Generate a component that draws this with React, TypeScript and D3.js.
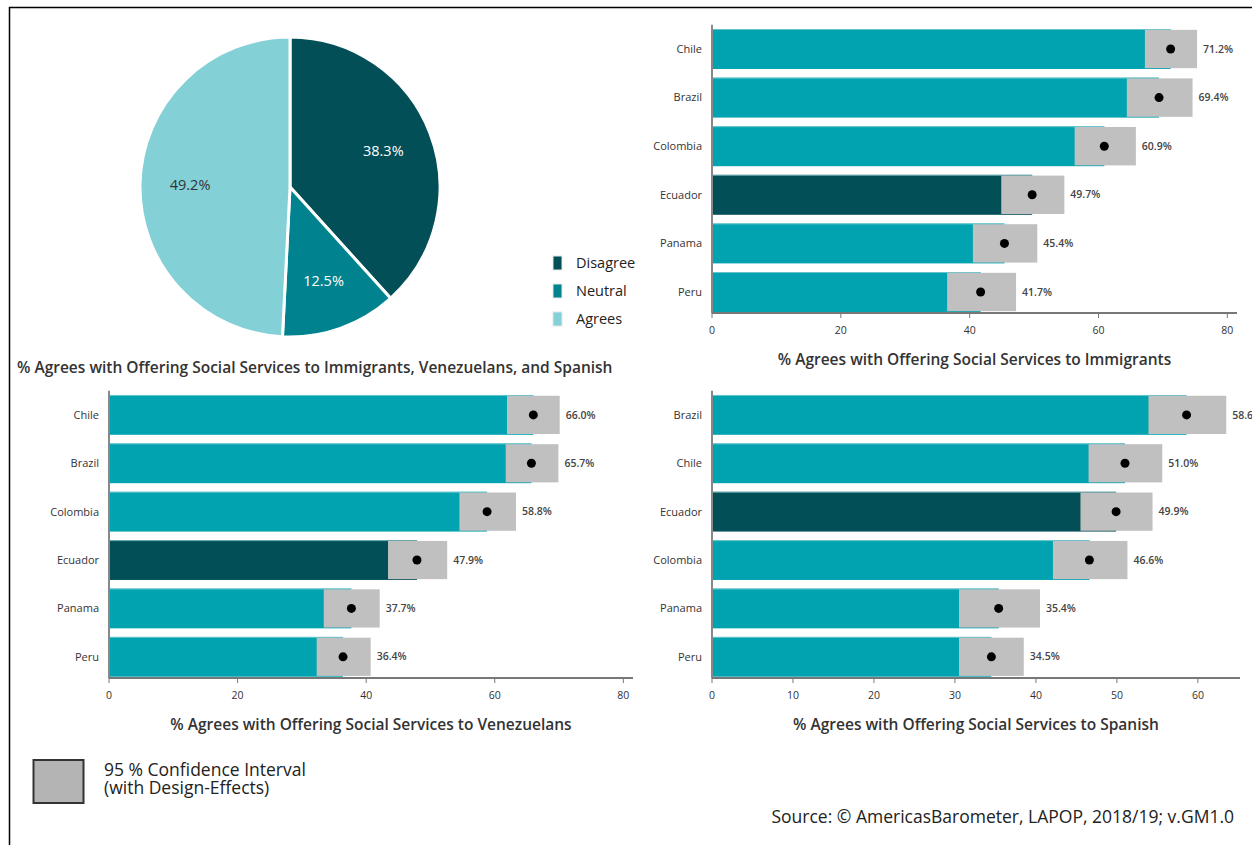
import React from 'react';
import * as d3 from 'd3';

// pie: overall agreement
const pieLabels = ['Disagree', 'Neutral', 'Agrees'];
const pieValues = [38.3, 12.5, 49.2];

// immigrants
const immCountries = ['Chile', 'Brazil', 'Colombia', 'Ecuador', 'Panama', 'Peru'];
const immMean = [71.2, 69.4, 60.9, 49.7, 45.4, 41.7];
const immLow = [67.2, 64.4, 56.3, 44.9, 40.5, 36.5];
const immHigh = [75.3, 74.6, 65.8, 54.7, 50.5, 47.2];

// venezuelans
const venCountries = ['Chile', 'Brazil', 'Colombia', 'Ecuador', 'Panama', 'Peru'];
const venMean = [66.0, 65.7, 58.8, 47.9, 37.7, 36.4];
const venLow = [61.9, 61.7, 54.5, 43.4, 33.4, 32.3];
const venHigh = [70.1, 69.9, 63.3, 52.6, 42.1, 40.7];

// spanish
const spaCountries = ['Brazil', 'Chile', 'Ecuador', 'Colombia', 'Panama', 'Peru'];
const spaMean = [58.6, 51.0, 49.9, 46.6, 35.4, 34.5];
const spaLow = [53.9, 46.5, 45.5, 42.1, 30.5, 30.5];
const spaHigh = [63.5, 55.6, 54.4, 51.3, 40.5, 38.5];

const axis80 = [0, 20, 40, 60, 80];
const axis60 = [0, 10, 20, 30, 40, 50, 60];

const FONT = "'Open Sans', 'DejaVu Sans', sans-serif";
const pieColors = ['#034f57', '#00838f', '#83d0d7'];
const TEAL = '#00a3af';
const DARK = '#034f57';
const GREY = '#c0c0c0';

interface BarProps {
  countries: string[];
  mean: number[];
  low: number[];
  high: number[];
  max: number;
  ticks: number[];
  x0: number;
  x1: number;
  bandTop: number;
  bandBottom: number;
  axisY: number;
  title: string;
}

const BarChart: React.FC<BarProps> = ({ countries, mean, low, high, max, ticks, x0, x1, bandTop, bandBottom, axisY, title }) => {
  const x = d3.scaleLinear().domain([0, max]).range([x0, x1]);
  const y = d3.scaleBand<string>().domain(countries).range([bandTop, bandBottom]).paddingInner(0.177).paddingOuter(0.0885);
  const bw = y.bandwidth();

  return (
    <g fontFamily={FONT}>
      {countries.map((c, i) => {
        const yy = y(c)!;
        return (
          <g key={c}>
            <rect x={x(0)} y={yy} width={x(mean[i]) - x(0)} height={bw} fill={c === 'Ecuador' ? DARK : TEAL} />
            <line x1={x(0)} x2={x(mean[i])} y1={yy + 0.5} y2={yy + 0.5} stroke="#8fd3d9" strokeWidth={1} opacity={0.7} />
            <rect x={x(low[i])} y={yy + 0.8} width={x(high[i]) - x(low[i])} height={bw - 1.6} fill={GREY} />
            <circle cx={x(mean[i])} cy={yy + bw / 2} r={4.5} fill="#000" />
            <text x={x(high[i]) + 6} y={yy + bw / 2} dy="0.35em" fontSize={10.5} fontWeight={600} fill="#444">
              {mean[i].toFixed(1)}%
            </text>
            <text x={x0 - 10} y={yy + bw / 2} dy="0.35em" fontSize={11} fill="#333" textAnchor="end">
              {c}
            </text>
          </g>
        );
      })}
      <line x1={x0} x2={x0} y1={bandTop} y2={axisY} stroke="#888" strokeWidth={2} />
      <line x1={x0} x2={x1} y1={axisY} y2={axisY} stroke="#777" strokeWidth={2} />
      {ticks.map((t) => (
        <g key={t}>
          <line x1={x(t)} x2={x(t)} y1={axisY} y2={axisY + 5} stroke="#777" strokeWidth={1} />
          <text x={x(t)} y={axisY + 21} fontSize={10.5} fill="#333" textAnchor="middle">
            {t}
          </text>
        </g>
      ))}
      <text x={(x0 + x1) / 2} y={axisY + 52} fontSize={15.5} fontWeight={600} fill="#333" textAnchor="middle">
        {title}
      </text>
    </g>
  );
};

const PieChart: React.FC = () => {
  const cx = 290;
  const cy = 187;
  const r = 150;
  const pie = d3.pie<number>().sort(null).value((d) => d);
  const arcs = pie(pieValues);
  const arc = d3.arc<d3.PieArcDatum<number>>().innerRadius(0).outerRadius(r);
  const labelArc = d3.arc<d3.PieArcDatum<number>>().innerRadius(100).outerRadius(100);

  return (
    <g fontFamily={FONT}>
      <g transform={`translate(${cx},${cy})`}>
        {arcs.map((a, i) => (
          <path key={i} d={arc(a)!} fill={pieColors[i]} stroke="#fff" strokeWidth={3} />
        ))}
        {arcs.map((a, i) => {
          const [lx, ly] = labelArc.centroid(a);
          return (
            <text key={i} x={lx} y={ly} dy="0.35em" textAnchor="middle" fontSize={14.5} fill={i === 2 ? '#333' : '#fff'}>
              {pieValues[i].toFixed(1)}%
            </text>
          );
        })}
      </g>
      {pieLabels.map((l, i) => (
        <g key={l} transform={`translate(553,${263 + i * 28})`}>
          <rect x={0} y={-7} width={9} height={14} fill={pieColors[i]} stroke="#e6e6e6" strokeWidth={1} />
          <text x={23} y={0} dy="0.35em" fontSize={14.5} fill="#222">
            {l}
          </text>
        </g>
      ))}
      <text x={17} y={373} fontSize={15.5} fontWeight={600} fill="#333">
        % Agrees with Offering Social Services to Immigrants, Venezuelans, and Spanish
      </text>
    </g>
  );
};

export default function App() {
  return (
    <div style={{ position: 'fixed', left: 0, top: 0 }}>
      <svg width={1252} height={845} style={{ display: 'block', background: '#fff' }}>
        <rect x={9.5} y={7.5} width={1400} height={1000} fill="none" stroke="#000" strokeWidth={1.5} />
        <PieChart />
        <BarChart
          countries={immCountries}
          mean={immMean}
          low={immLow}
          high={immHigh}
          max={81.5}
          ticks={axis80}
          x0={712}
          x1={1237}
          bandTop={24.7}
          bandBottom={316.3}
          axisY={313}
          title="% Agrees with Offering Social Services to Immigrants"
        />
        <BarChart
          countries={venCountries}
          mean={venMean}
          low={venLow}
          high={venHigh}
          max={81.5}
          ticks={axis80}
          x0={109}
          x1={633}
          bandTop={390.7}
          bandBottom={681}
          axisY={678}
          title="% Agrees with Offering Social Services to Venezuelans"
        />
        <BarChart
          countries={spaCountries}
          mean={spaMean}
          low={spaLow}
          high={spaHigh}
          max={65.2}
          ticks={axis60}
          x0={712}
          x1={1240}
          bandTop={390.7}
          bandBottom={681}
          axisY={678}
          title="% Agrees with Offering Social Services to Spanish"
        />
        <g fontFamily={FONT}>
          <rect x={33.5} y={760} width={50} height={43} fill="#b4b4b4" stroke="#333" strokeWidth={2} />
          <text x={104} y={776} fontSize={17.5} fill="#222">95 % Confidence Interval</text>
          <text x={104} y={794} fontSize={17.5} fill="#222">(with Design-Effects)</text>
          <text x={1234} y={823} fontSize={17.5} fill="#222" textAnchor="end">
            Source: © AmericasBarometer, LAPOP, 2018/19; v.GM1.0
          </text>
        </g>
      </svg>
    </div>
  );
}
